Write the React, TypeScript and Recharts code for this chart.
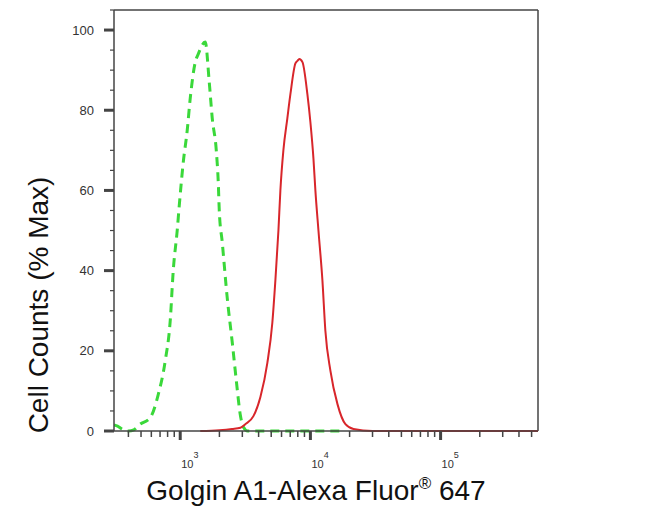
import { LineChart, Line, XAxis, YAxis, ReferenceLine } from 'recharts';

// isotype control (green dashed)
const controlX = [310, 330, 360, 400, 440, 492, 588, 677, 767, 838, 884, 948, 982, 1055, 1132, 1194, 1305, 1375, 1557, 1671, 1762, 1892, 1960, 1995, 2104, 2300, 2512, 2698, 2895, 3054, 3300, 5000, 10000, 17000];
const controlY = [1.5, 1.2, 0.4, 0, 0.3, 1.7, 3.3, 9, 17.5, 27.5, 40, 50, 56, 67, 75, 83, 92, 94, 97, 87, 78, 70, 62, 55, 47, 33, 22, 12.5, 4, 1, 0, 0, 0, 0];

// Golgin A1 stained (red)
const stainedX = [1425, 2000, 2500, 2900, 3160, 3650, 4130, 4670, 5100, 5380, 5680, 5880, 6200, 6650, 7020, 7670, 7950, 8220, 8690, 9480, 10000, 10550, 10920, 11530, 12370, 13030, 14250, 16140, 18580, 21420, 30000, 560000];
const stainedY = [0, 0.2, 0.5, 0.8, 1.7, 3.7, 8.5, 17, 27, 37.5, 50, 60, 70, 78, 84, 91.7, 92.3, 92.8, 92, 84, 77, 68, 60, 50, 37.5, 25, 15, 6.7, 1.7, 0.5, 0, 0];

const xMajor = [1000, 10000, 100000];
const xMinor = [400, 500, 600, 700, 800, 900, 2000, 3000, 4000, 5000, 6000, 7000, 8000, 9000, 20000, 30000, 40000, 50000, 60000, 70000, 80000, 90000, 200000, 300000, 400000, 500000];
const yTicks = [0, 5, 10, 15, 20, 25, 30, 35, 40, 45, 50, 55, 60, 65, 70, 75, 80, 85, 90, 95, 100, 105];
const yLabeled = [0, 20, 40, 60, 80, 100];

const FONT = "Arial, 'Liberation Sans', sans-serif";
const AXIS = '#444';

const controlData = controlX.map((x, i) => ({ x, y: controlY[i] }));
const stainedData = stainedX.map((x, i) => ({ x, y: stainedY[i] }));

function XTick({ x, y, payload }: any) {
  const v = payload.value;
  const major = xMajor.includes(v);
  const exp = Math.round(Math.log10(v));
  return (
    <g>
      <line x1={x} x2={x} y1={y} y2={y + (major ? 9 : 6)} stroke={AXIS} strokeWidth={major ? 3 : 1.5} />
      {major && (
        <text x={x + 1} y={y + 37} fontFamily={FONT} fontSize={11} fill="#333">
          10
          <tspan dy={-10} fontSize={9}>{exp}</tspan>
        </text>
      )}
    </g>
  );
}

function YTick({ x, y, payload }: any) {
  const v = payload.value;
  const major = yLabeled.includes(v);
  return (
    <g>
      <line x1={x - (major ? 10 : 4)} x2={x} y1={y} y2={y} stroke={AXIS} strokeWidth={major ? 3 : 1.2} />
      {major && (
        <text x={x - 20} y={y} dy="0.36em" textAnchor="end" fontFamily={FONT} fontSize={13} fill="#333">
          {v}
        </text>
      )}
    </g>
  );
}

export default function App() {
  return (
    <div style={{ position: 'absolute', left: 0, top: 0, background: '#fff' }}>
      <LineChart width={650} height={516} margin={{ top: 10, right: 112, bottom: 0, left: 0 }}>
        <XAxis
          dataKey="x"
          type="number"
          scale="log"
          domain={[310, 560000]}
          allowDataOverflow
          ticks={[...xMinor, ...xMajor]}
          tick={<XTick />}
          tickLine={false}
          tickSize={0}
          tickMargin={0}
          height={85}
          axisLine={{ stroke: AXIS, strokeWidth: 1.5 }}
          interval={0}
          label={{
            position: 'insideBottom',
            content: () => (
              <text x={316} y={500} textAnchor="middle" fontFamily={FONT} fontSize={28} fill="#111">
                Golgin A1-Alexa Fluor
                <tspan dy={-11} fontSize={17}>®</tspan>
                <tspan dy={11}> 647</tspan>
              </text>
            ),
          }}
        />
        <YAxis
          type="number"
          domain={[0, 105]}
          ticks={yTicks}
          tick={<YTick />}
          tickLine={false}
          tickSize={0}
          tickMargin={0}
          width={114}
          interval={0}
          axisLine={{ stroke: AXIS, strokeWidth: 1.5 }}
          label={{
            position: 'insideLeft',
            content: () => (
              <text
                x={38}
                y={305}
                transform="rotate(-90 38 305)"
                textAnchor="middle"
                dominantBaseline="central"
                fontFamily={FONT}
                fontSize={28}
                fill="#111"
              >
                Cell Counts (% Max)
              </text>
            ),
          }}
        />
        <ReferenceLine y={105} stroke={AXIS} strokeWidth={1.5} />
        <ReferenceLine x={560000} stroke={AXIS} strokeWidth={1.5} />
        <Line
          data={controlData}
          dataKey="y"
          type="monotone"
          stroke="#3ad83a"
          strokeWidth={3}
          strokeDasharray="9 6"
          dot={false}
          isAnimationActive={false}
        />
        <Line
          data={stainedData}
          dataKey="y"
          type="monotone"
          stroke="#d8262b"
          strokeWidth={2}
          dot={false}
          isAnimationActive={false}
        />
      </LineChart>
    </div>
  );
}
